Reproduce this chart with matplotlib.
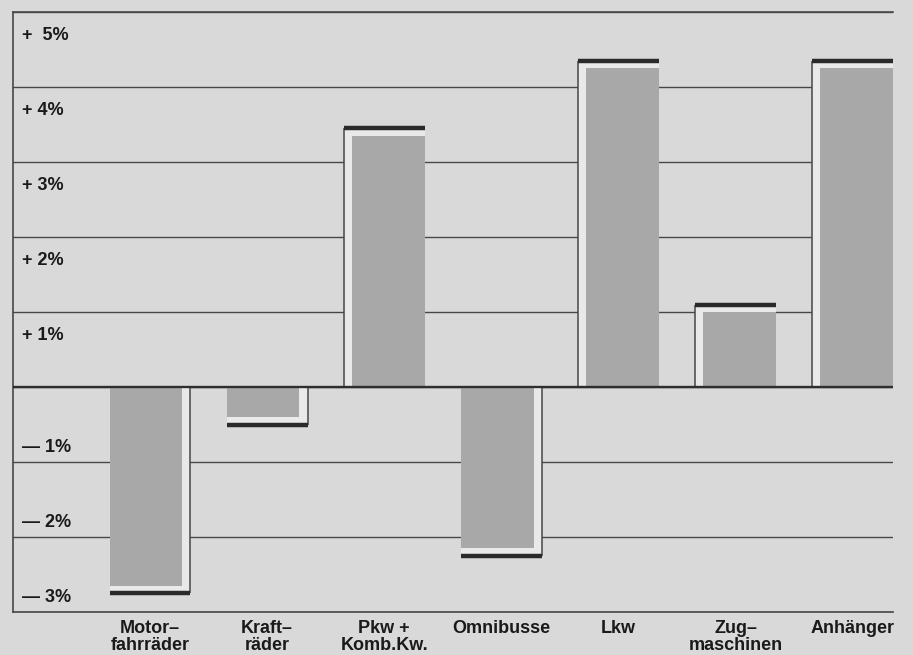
import matplotlib
matplotlib.use("Agg")
import matplotlib.pyplot as plt
import numpy as np

categories = ["Motor–\nfahrräder", "Kraft–\nräder", "Pkw +\nKomb.Kw.", "Omnibusse",
              "Lkw", "Zug–\nmaschinen", "Anhänger"]
changes = [-2.75, -0.5, 3.45, -2.25, 4.35, 1.1, 4.35]
tick_values = [5, 4, 3, 2, 1, -1, -2, -3]
tick_labels = ["+  5%", "+ 4%", "+ 3%", "+ 2%", "+ 1%", "— 1%", "— 2%", "— 3%"]

plt.rcParams["font.family"] = ["Liberation Sans", "DejaVu Sans"]

BG = "#d9d9d9"
LIGHT = "#e9e9e9"
GREY = "#a8a8a8"
DARK = "#2a2a2a"
LINE = "#474747"

fig = plt.figure(figsize=(9.13, 6.55), dpi=100, facecolor=BG)
ax = fig.add_axes([13 / 913, 1 - 612 / 655, 880 / 913, 600 / 655])
ax.set_facecolor(BG)

x = np.arange(len(categories))
w = 0.69    # bar width
dx = 0.07   # shift of the grey block inside the frame
dy = 0.1    # gap between grey block and end cap

for xi, v in zip(x, changes):
    ax.bar(xi, v, width=w, color=LIGHT, zorder=2)
    if v > 0:
        ax.bar(xi + dx / 2, v - dy, width=w - dx, color=GREY, zorder=3)
        ax.vlines(xi - w / 2, 0, v, color=LINE, lw=1.1, zorder=4)
    else:
        ax.bar(xi - dx / 2, v + dy, width=w - dx, color=GREY, zorder=3)
        ax.vlines(xi + w / 2, 0, v, color=LINE, lw=1.1, zorder=4)
    ax.hlines(v, xi - w / 2, xi + w / 2, color=DARK, lw=3.2, zorder=5)

ax.axhline(0, color="#2e2e2e", lw=1.7, zorder=6)

ax.set_xlim(-1.17, 6.345)
ax.set_ylim(-3, 5)
ax.set_yticks(range(-3, 6))
ax.yaxis.grid(True, color=LINE, lw=1.0)
ax.set_axisbelow(True)
ax.tick_params(axis="y", length=0, labelleft=False)

for v, lab in zip(tick_values, tick_labels):
    off = -20 if v > 0 else 7
    ax.annotate(lab, xy=(0, v), xycoords=("axes fraction", "data"),
                xytext=(6.3, off), textcoords="offset points",
                ha="left", va="baseline", fontsize=13, fontweight="bold",
                color="#1a1a1a")

ax.set_xticks(x, categories, fontsize=13, fontweight="bold", color="#1a1a1a")
for lbl in ax.get_xticklabels():
    lbl.set_linespacing(0.95)
ax.tick_params(axis="x", length=0, pad=6)

ax.spines["right"].set_visible(False)
for s in ["left", "top", "bottom"]:
    ax.spines[s].set_color(LINE)
    ax.spines[s].set_linewidth(1.2)

fig.savefig("out.png", dpi=100, facecolor=BG)
